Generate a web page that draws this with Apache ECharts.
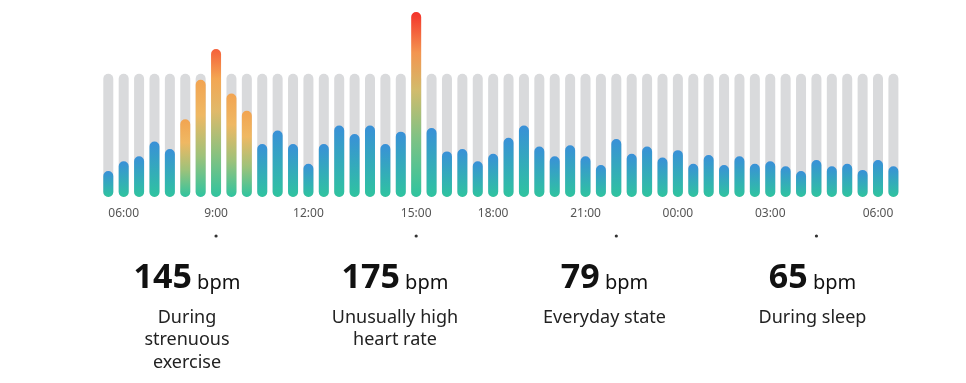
<!DOCTYPE html>
<html><head><meta charset="utf-8">
<script src="https://cdn.jsdelivr.net/npm/echarts@6/dist/echarts.min.js"></script>
<style>html,body{margin:0;padding:0;background:#fff}#c{width:966px;height:383px}</style>
</head><body><div id="c"></div>
<script>
// half-hour slots
const categories = ['05:30','06:00','06:30','07:00','07:30','08:00','08:30','09:00','09:30','10:00','10:30','11:00','11:30','12:00','12:30','13:00','13:30','14:00','14:30','15:00','15:30','16:00','16:30','17:00','17:30','18:00','18:30','19:00','19:30','20:00','20:30','21:00','21:30','22:00','22:30','23:00','23:30','00:00','00:30','01:00','01:30','02:00','02:30','03:00','03:30','04:00','04:30','05:00','05:30 ','06:00 ','06:30 ','07:00 '];
const heartRate = [46,54,58,70,64,88,120,145,109,95,68,79,68,52,68,83,76,83,68,78,175,81,62,64,54,60,73,83,66,58,67,58,51,72,60,66,57,63,52,59,51,58,52,54,50,46,55,50,52,47,55,50];
const trackLevel = 125;
const tickIndex = [1,7,13,20,25,31,37,43,50];
const tickLabels = ['06:00','9:00','12:00','15:00','18:00','21:00','00:00','03:00','06:00'];
const statValues = [145,175,79,65];
const statUnit = 'bpm';
const statLabels = ['During\nstrenuous\nexercise','Unusually high\nheart rate','Everyday state','During sleep'];
const statCenters = [187,395,604.5,812.5];
const dotIndex = [7,20,33,46];

const FONT = '"Noto Sans", "Open Sans", sans-serif';
const TEAL = '#2fc49f';
function grad(stops){ return {type:'linear',x:0,y:0,x2:0,y2:1,colorStops:stops.map(s=>({offset:s[0],color:s[1]}))}; }
function barColor(v){
  if (v > 150) return grad([[0,'#f4322a'],[0.22,'#f39550'],[0.42,'#d2bb6c'],[0.68,'#7fc284'],[1,TEAL]]);
  if (v > 130) return grad([[0,'#f5603a'],[0.2,'#f3a653'],[0.42,'#e0b96a'],[0.7,'#8cc17e'],[1,TEAL]]);
  if (v > 85) return grad([[0,'#f2a451'],[0.3,'#efb863'],[0.65,'#9ec27a'],[1,TEAL]]);
  return grad([[0,'#3990d8'],[1,TEAL]]);
}
const tickMap = {};
tickIndex.forEach((i,k)=>{ tickMap[i]=tickLabels[k]; });

const chart = echarts.init(document.getElementById('c'), null, {renderer:'canvas'});
chart.setOption({
  animation:false,
  grid:{left:100.6, width:800.5, top:5.9, bottom:186},
  xAxis:{type:'category', data:categories, axisLine:{show:false}, axisTick:{show:false},
    axisLabel:{interval:0, margin:11, color:'#555', fontSize:12, fontFamily:FONT,
      formatter:(v,i)=>tickMap[i]||''}},
  yAxis:{type:'value', min:25, max:180, show:false, splitLine:{show:false}},
  series:[
    {type:'bar', silent:true, barWidth:10, barGap:'-100%', data:categories.map(()=>trackLevel),
     itemStyle:{color:'#d9dadc', borderRadius:5}},
    {type:'bar', barWidth:10, barGap:'-100%',
     data:heartRate.map(v=>({value:v, itemStyle:{color:barColor(v), borderRadius:5}}))}
  ]
});

const ctx = document.createElement('canvas').getContext('2d');
function tw(text, font){ ctx.font = font; return ctx.measureText(text).width; }
const graphics = [];
dotIndex.forEach(i=>{
  const x = chart.convertToPixel({xAxisIndex:0}, i);
  graphics.push({type:'circle', shape:{cx:x, cy:236, r:1.6}, style:{fill:'#333'}});
});
statValues.forEach((v,k)=>{
  const numFont = 'bold 34px ' + FONT, unitFont = '20px ' + FONT;
  const wn = tw(String(v), numFont), ws = tw(' ', unitFont), wu = tw(statUnit, unitFont);
  const total = wn + ws + wu;
  const x0 = statCenters[k] - total/2;
  graphics.push({type:'text', x:x0, y:278, style:{text:String(v), font:numFont, fill:'#111', align:'left', verticalAlign:'middle'}});
  graphics.push({type:'text', x:x0+wn+ws, y:283, style:{text:statUnit, font:unitFont, fill:'#111', align:'left', verticalAlign:'middle'}});
  graphics.push({type:'text', x:statCenters[k], y:306.5, style:{text:statLabels[k], font:'18px '+FONT, lineHeight:22.5, fill:'#222', align:'center', verticalAlign:'top'}});
});
chart.setOption({graphic:graphics});
</script></body></html>
